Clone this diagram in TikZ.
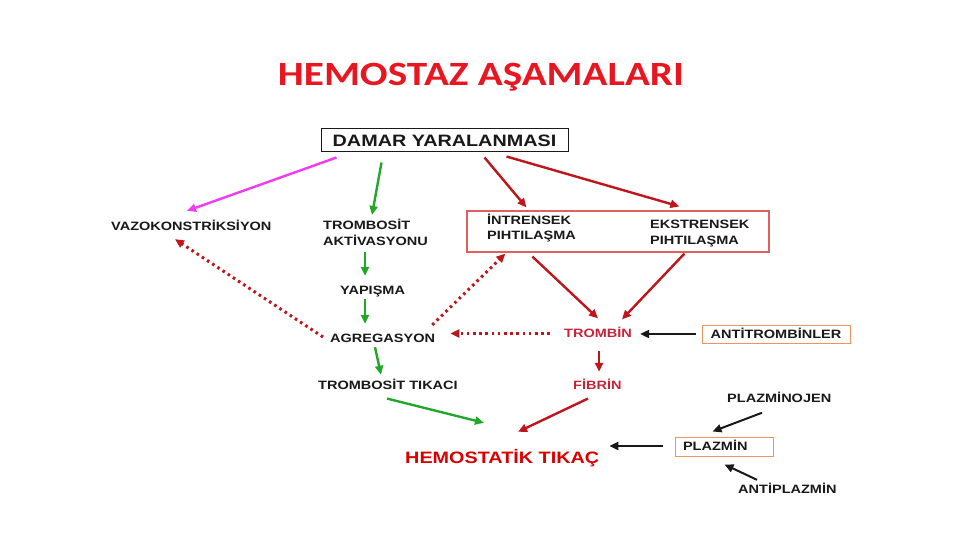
\documentclass[tikz,border=0pt]{standalone}
\usepackage{fontspec}
\setmainfont{Liberation Sans}
\newfontfamily\lblfont{Liberation Sans}[FakeStretch=1.2]
\newfontfamily\titlefont{Carlito}[FakeStretch=1.21]
\usepackage{tikz}
\usetikzlibrary{arrows.meta, calc, positioning}
\definecolor{ink}{RGB}{25,25,25}
\definecolor{titlered}{RGB}{232,22,32}
\definecolor{darkred}{RGB}{190,22,28}
\definecolor{textred}{RGB}{200,35,55}
\definecolor{boxred}{RGB}{226,95,95}
\definecolor{boxorange}{RGB}{236,150,92}
\definecolor{leafgreen}{RGB}{34,168,40}
\definecolor{pinkmag}{RGB}{240,60,240}

\begin{document}
\begin{tikzpicture}[x=1pt,y=-1pt,>={Triangle[length=9pt,width=8pt]},
  lbl/.style={font=\fontsize{12.1}{16}\selectfont\lblfont\bfseries, text=ink,
              text height=8.7pt, text depth=0pt, inner sep=0pt},
  lbltwo/.style={lbl, text width=120pt, align=left, text depth=16pt},
  big/.style={font=\fontsize{16.5}{20}\selectfont\lblfont\bfseries, text=ink,
              text height=11.8pt, text depth=0pt, inner sep=0pt},
  grn/.style={->, leafgreen, line width=2.4pt},
  rd/.style={->, darkred, line width=2.4pt},
  blk/.style={->, ink, line width=2pt},
  dots/.style={->, darkred, line width=3pt, dash pattern=on 2.6pt off 3.6pt}]
  \fill[white] (0,0) rectangle (960,540);
  \useasboundingbox (0,0) rectangle (960,540);
  % title
  \node[font=\fontsize{34}{40}\selectfont\titlefont\bfseries, text=titlered,
        text height=22pt, text depth=0pt, inner sep=0pt] (baslik) at (481,74.5)
        {HEMOSTAZ AŞAMALARI};
  % top box and first row
  \node[big, draw=ink, line width=1pt, minimum width=247, minimum height=23]
        (damar) at (444.5,140.5) {DAMAR YARALANMASI};
  \node[lbl, anchor=west] (vazo) at (111,226) {VAZOKONSTRİKSİYON};
  \node[lbltwo, anchor=north west] (akt) at (323,220.6) {TROMBOSİT\\AKTİVASYONU};
  \node[draw=boxred, line width=1.2pt, minimum width=302, minimum height=41,
        inner sep=0pt] (pihti) at (618,231.5) {};
  \node[lbltwo, font=\fontsize{12.1}{15}\selectfont\lblfont\bfseries,
        text depth=15pt, anchor=north west] (intr) at (487,215.3)
        {İNTRENSEK\\PIHTILAŞMA};
  \node[lbltwo, anchor=north west] (ekst) at (650,219.3) {EKSTRENSEK\\PIHTILAŞMA};
  % platelet column
  \node[lbl, anchor=west] (yap) at (340,290.5) {YAPIŞMA};
  \node[lbl, anchor=west] (agr) at (330,338) {AGREGASYON};
  \node[lbl, anchor=west] (tikaci) at (318,385.3) {TROMBOSİT TIKACI};
  % coagulation column
  \node[lbl, text=textred, anchor=west] (trombin) at (564,333.5) {TROMBİN};
  \node[lbl, draw=boxorange, line width=1pt, minimum width=148, minimum height=18]
        (antit) at (776,334) {ANTİTROMBİNLER};
  \node[lbl, text=textred, anchor=west] (fibrin) at (573,385.3) {FİBRİN};
  % fibrinolysis
  \node[lbl, anchor=west] (plazminojen) at (727,397.8) {PLAZMİNOJEN};
  \node[lbl, draw=boxorange, line width=1pt, text width=82pt, align=left,
        inner xsep=8pt, minimum height=19] (plazmin) at (724,446.5) {PLAZMİN};
  \node[lbl, anchor=west] (antiplazmin) at (738,489.5) {ANTİPLAZMİN};
  % result
  \node[big, text=red!85!black, anchor=west] (hemo) at (405,457.3) {HEMOSTATİK TIKAÇ};

  % arrows from the injury
  \draw[->, pinkmag, line width=2.4pt] ([shift={(16,5)}]damar.south west)
        -- ([shift={(76,-10.6)}]vazo.north west);
  \draw[grn] ([shift={(61,10)}]damar.south west) -- ([shift={(49,-5.6)}]akt.north west);
  \draw[rd] ([shift={(164,5)}]damar.south west) -- ([shift={(60,-3)}]pihti.north west);
  \draw[rd] ([shift={(186,4)}]damar.south west) -- ([shift={(213,-4)}]pihti.north west);
  % platelet steps
  \draw[grn] ([shift={(42,6.7)}]akt.south west) -- ([shift={(25,-10)}]yap.north west);
  \draw[grn] ([shift={(25,4)}]yap.south west) -- ([shift={(35,-9.6)}]agr.north west);
  \draw[grn] ([shift={(45,4.7)}]agr.south west) -- ([shift={(63,-6)}]tikaci.north west);
  \draw[dots] ([shift={(-7,-1)}]agr.west) -- ([shift={(64,8.6)}]vazo.south west);
  \draw[dots] ([shift={(-3,-8.6)}]agr.north east) -- ([shift={(39,1)}]pihti.south west);
  % thrombin and fibrin
  \draw[rd] ([shift={(66,4)}]pihti.south west) -- ([shift={(34,-10.6)}]trombin.north west);
  \draw[rd] ([shift={(218,1)}]pihti.south west) -- ([shift={(58,-9.6)}]trombin.north west);
  \draw[dots] ([shift={(-14,0)}]trombin.west) -- ([shift={(15,-4.5)}]agr.east);
  \draw[blk] ([shift={(-6,0)}]antit.west) -- ([shift={(8,0.5)}]trombin.east);
  \draw[rd] ([shift={(35,13)}]trombin.south west) -- ([shift={(26,-9)}]fibrin.north west);
  % towards the plug
  \draw[grn] ([shift={(69,8.7)}]tikaci.south west) -- ([shift={(79,-28.4)}]hemo.north west);
  \draw[rd] ([shift={(15,8.7)}]fibrin.south west) -- ([shift={(113,-19.4)}]hemo.north west);
  \draw[blk] ([shift={(-12,-0.5)}]plazmin.west) -- ([shift={(10,-11.3)}]hemo.east);
  \draw[blk] ([shift={(35,10.4)}]plazminojen.south west) -- ([shift={(38,-5)}]plazmin.north west);
  \draw[blk] ([shift={(19,-5.1)}]antiplazmin.north west) -- ([shift={(50,8)}]plazmin.south west);
\end{tikzpicture}
\end{document}
